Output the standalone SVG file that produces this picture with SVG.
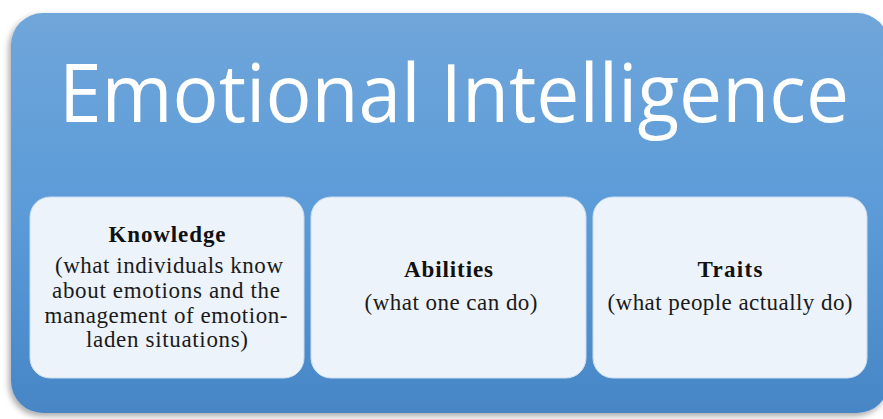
<svg xmlns="http://www.w3.org/2000/svg" width="883" height="419" viewBox="0 0 883 419">
<style>
.title{font-family:"Open Sans","Liberation Sans",sans-serif;font-size:80px;fill:#ffffff;}
.box{fill:#edf3fa;stroke:#c9dcef;stroke-width:1;}
.hd{font-family:"Liberation Serif",serif;font-weight:bold;font-size:23px;fill:#111111;text-anchor:middle;}
.tx{font-family:"Liberation Serif",serif;font-size:23px;fill:#1a1a1a;text-anchor:middle;}
</style>
<defs>
<linearGradient id="bg" x1="0" y1="0" x2="0" y2="1">
<stop offset="0" stop-color="#70a6da"/>
<stop offset="0.5" stop-color="#5b9bd8"/>
<stop offset="1" stop-color="#4786c6"/>
</linearGradient>
<filter id="sh" x="-5%" y="-5%" width="110%" height="115%">
<feDropShadow dx="-2" dy="3" stdDeviation="3" flood-color="#000" flood-opacity="0.35"/>
</filter>
</defs>
<rect x="0" y="0" width="883" height="419" fill="#ffffff"/>
<g id="outer">
<rect x="11" y="13" width="878" height="400" rx="32" fill="url(#bg)" filter="url(#sh)"/>
<text class="title" x="59" y="122" textLength="790" lengthAdjust="spacingAndGlyphs">Emotional Intelligence</text>
</g>
<g id="connectors"></g>
<g id="knowledge">
<rect class="box" x="30" y="197" width="274" height="181" rx="20"/>
<text class="hd" x="167" y="242" textLength="117">Knowledge</text>
<text class="tx" x="169" y="273" textLength="228">(what individuals know</text>
<text class="tx" x="166" y="298" textLength="228">about emotions and the</text>
<text class="tx" x="166" y="323" textLength="243">management of emotion-</text>
<text class="tx" x="167" y="347" textLength="162">laden situations)</text>
</g>
<g id="abilities">
<rect class="box" x="311" y="197" width="275" height="181" rx="20"/>
<text class="hd" x="448.5" y="277" textLength="89">Abilities</text>
<text class="tx" x="451" y="310" textLength="173">(what one can do)</text>
</g>
<g id="traits">
<rect class="box" x="593" y="197" width="274" height="181" rx="20"/>
<text class="hd" x="730" y="277" textLength="65">Traits</text>
<text class="tx" x="730" y="310" textLength="245">(what people actually do)</text>
</g>
</svg>
